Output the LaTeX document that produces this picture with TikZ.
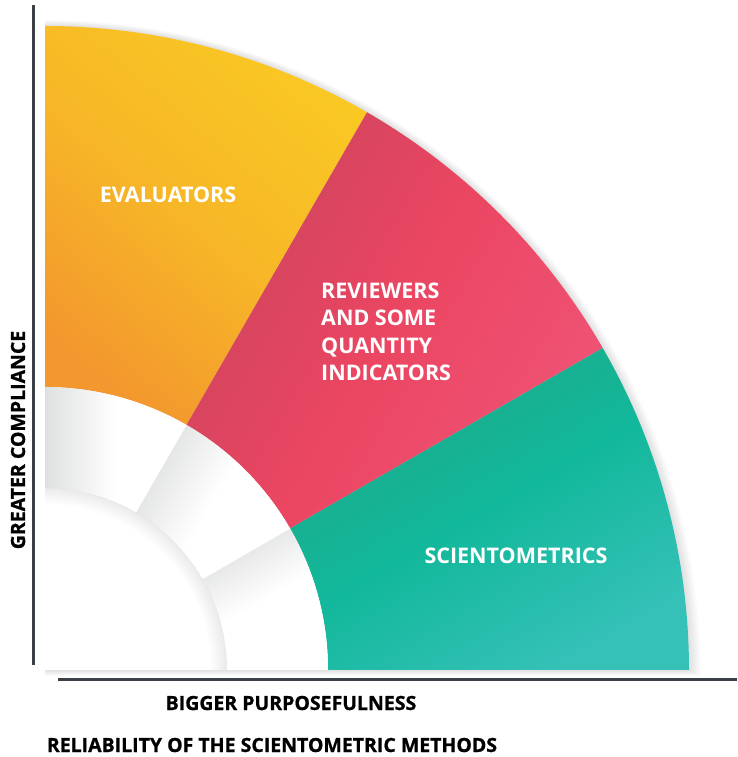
\documentclass[tikz,border=0pt]{standalone}
\usepackage{fontspec}
\setmainfont{Open Sans}
\newfontfamily\axisfont[BoldFeatures={FakeBold=0.9}]{Open Sans}
\usepackage{xcolor}
\usepackage{tikz}
\usetikzlibrary{calc}

\definecolor{evalorange}{HTML}{F3982E}
\definecolor{evalyellow}{HTML}{F9C823}
\definecolor{revdark}{HTML}{CD445D}
\definecolor{revred}{HTML}{EB4662}
\definecolor{revpink}{HTML}{EF5375}
\definecolor{scidark}{HTML}{1EA888}
\definecolor{sciteal}{HTML}{12B89B}
\definecolor{scilight}{HTML}{36C1B8}
\definecolor{axisgray}{HTML}{3B4046}
\definecolor{bandgray}{HTML}{DFE0E0}

\begin{document}
\begin{tikzpicture}[x=1pt,y=1pt,
  sectorlabel/.style={text=white, inner sep=0pt, align=left,
    font=\bfseries\fontsize{21.5}{27.5}\selectfont},
  axislabel/.style={text=black, inner sep=0pt,
    font=\axisfont\bfseries\fontsize{19.5}{22}\selectfont},
  axisline/.style={axisgray, line width=3pt},
  bandseg/.style={top color=bandgray, bottom color=white, middle color=white, shading angle=#1}]

\useasboundingbox (-45,-87) rectangle (692,670);
\def\rin{182}
\def\rmid{283}
\def\rout{644}

% Soft shadow round the fan
\foreach \s in {1,...,10}
  \fill[black, opacity=0.013] (0,-\s*0.6) -- ({\rout+\s*1.2},-\s*0.6)
    arc[start angle=0, end angle=90, radius={\rout+\s*1.2}] -- cycle;
\fill[white] (0,0) -- (\rmid,0) arc[start angle=0, end angle=90, radius=\rmid] -- cycle;

% Evaluators
\shade[bottom color=evalorange, top color=evalyellow, middle color=evalyellow!65!evalorange, shading angle=-40]
  (90:\rmid) -- (90:\rout) arc[start angle=90, end angle=60, radius=\rout]
  -- (60:\rmid) arc[start angle=60, end angle=90, radius=\rmid] -- cycle;

% Reviewers
\shade[left color=revdark, right color=revpink, middle color=revred, shading angle=60]
  (60:\rmid) -- (60:\rout) arc[start angle=60, end angle=30, radius=\rout]
  -- (30:\rmid) arc[start angle=30, end angle=60, radius=\rmid] -- cycle;

% Scientometrics
\shade[top color=scidark, bottom color=scilight, middle color=sciteal, shading angle=30]
  (30:\rmid) -- (30:\rout) arc[start angle=30, end angle=0, radius=\rout]
  -- (0:\rmid) arc[start angle=0, end angle=30, radius=\rmid] -- cycle;

% White band
\foreach \a [evaluate=\a as \b using int(\a+30)] in {0,30,60}
  \shade[bandseg=\b] (\a:\rin) -- (\a:\rmid) arc[start angle=\a, end angle=\b, radius=\rmid]
    -- (\b:\rin) arc[start angle=\b, end angle=\a, radius=\rin] -- cycle;

% Shadow in the hollow
\foreach \s in {1,...,10}
  \fill[black, opacity=0.008] (0,\rin) arc[start angle=90, end angle=0, radius=\rin]
    -- ({\rin-\s*1.6},0) arc[start angle=0, end angle=90, radius={\rin-\s*1.6}] -- cycle;

% Axes
\coordinate (ytop) at (-12,665);
\coordinate (ybot) at (-12,5);
\coordinate (xleft) at (13,-10);
\coordinate (xright) at (692,-10);
\draw[axisline] (ybot) -- (ytop);
\draw[axisline] (xleft) -- (xright);

% Labels
\node[sectorlabel, anchor=base] (evaluators) at (123,467) {EVALUATORS};
\node[sectorlabel, anchor=north west] (reviewers) at (276,387.5)
  {REVIEWERS\\AND SOME\\QUANTITY\\INDICATORS};
\node[sectorlabel, anchor=base] (scientometrics) at (471,106) {SCIENTOMETRICS};

\node[axislabel, anchor=base] (purpose) at (246,-40) {BIGGER PURPOSEFULNESS};
\node[axislabel, anchor=base] (reliability) at (227,-82) {RELIABILITY OF THE SCIENTOMETRIC METHODS};
\node[axislabel, anchor=base, rotate=90] (compliance) at (-20,230) {GREATER COMPLIANCE};

\end{tikzpicture}
\end{document}
